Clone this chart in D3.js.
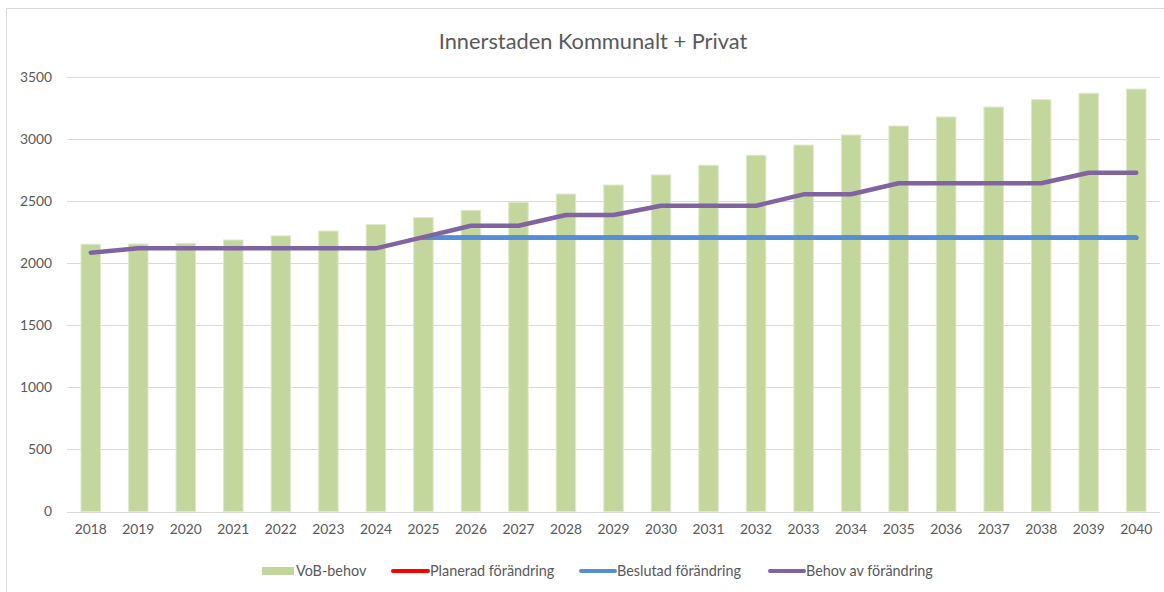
<!DOCTYPE html>
<html>
<head>
<meta charset="utf-8">
<script src="https://cdn.jsdelivr.net/npm/d3@7"></script>
<style>
  body { margin: 0; background: #fff; }
  svg { display: block; font-family: Lato, "Open Sans", sans-serif; }
</style>
</head>
<body>
<div id="chart"></div>
<script>
// values
let years = ["2018","2019","2020","2021","2022","2023","2024","2025","2026","2027","2028",
             "2029","2030","2031","2032","2033","2034","2035","2036","2037","2038","2039","2040"];
let vobBehov = [2153, 2155, 2160, 2187, 2220, 2259, 2312, 2367, 2426, 2490, 2557,
                2630, 2711, 2789, 2869, 2952, 3033, 3105, 3178, 3258, 3317, 3369, 3403];
let planerad = [null, null, null, null, null, null, null, 2206, 2206, 2206, 2206,
                2206, 2206, 2206, 2206, 2206, 2206, 2206, 2206, 2206, 2206, 2206, 2206];
let beslutad = [null, null, null, null, null, null, null, 2206, 2206, 2206, 2206,
                2206, 2206, 2206, 2206, 2206, 2206, 2206, 2206, 2206, 2206, 2206, 2206];
let behov = [2085, 2120, 2120, 2120, 2120, 2120, 2120, 2210, 2302, 2302, 2388,
             2388, 2463, 2463, 2463, 2555, 2555, 2644, 2644, 2644, 2644, 2729, 2729];
let yTicks = [0, 500, 1000, 1500, 2000, 2500, 3000, 3500];
let title = "Innerstaden Kommunalt + Privat";
let legendNames = ["VoB-behov", "Planerad förändring", "Beslutad förändring", "Behov av förändring"];

let W = 1164, H = 592;
let svg = d3.select("#chart").append("svg").attr("width", W).attr("height", H);

// chart frame
svg.append("rect")
    .attr("x", 6.5).attr("y", 8.5)
    .attr("width", 1160).attr("height", 590)
    .attr("fill", "#fff").attr("stroke", "#d9d9d9");

svg.append("text")
    .attr("x", 593).attr("y", 49)
    .attr("text-anchor", "middle")
    .style("font-size", "21.8px")
    .style("fill", "#595959")
    .text(title);

let x = d3.scaleBand().domain(years).range([67, 1160]).paddingInner(0.59).paddingOuter(0.295);
let y = d3.scaleLinear().domain([0, 3500]).range([511.5, 77]);
let cx = function(d){ return x(d) + x.bandwidth() / 2 };

//gridlines
svg.append("g")
    .selectAll("line")
    .data(yTicks)
    .enter()
    .append("line")
    .attr("x1", 67).attr("x2", 1160)
    .attr("y1", function(d){ return Math.round(y(d)) + 0.5 })
    .attr("y2", function(d){ return Math.round(y(d)) + 0.5 })
    .attr("stroke", "#d9d9d9")
    .attr("stroke-width", 1);

//y axis labels
let yAxis = svg.append("g")
    .attr("transform", "translate(52,0)")
    .call(d3.axisLeft(y).tickValues(yTicks).tickFormat(d3.format("d")).tickSize(0).tickPadding(0));
yAxis.select(".domain").remove();
yAxis.selectAll("text").style("font-size", "13.8px").style("fill", "#595959").style("font-family", "Lato, sans-serif");

//x axis labels
let xAxis = svg.append("g")
    .attr("transform", "translate(0,524)")
    .call(d3.axisBottom(x).tickSize(0).tickPadding(0));
xAxis.select(".domain").remove();
xAxis.selectAll("text").style("font-size", "13.8px").style("fill", "#595959").style("font-family", "Lato, sans-serif");

//bars
svg.append("g")
    .selectAll("rect")
    .data(years)
    .enter()
    .append("rect")
    .attr("x", function(d){ return x(d) })
    .attr("width", x.bandwidth())
    .attr("y", function(d, i){ return y(vobBehov[i]) })
    .attr("height", function(d, i){ return y(0) - y(vobBehov[i]) })
    .attr("fill", "#c3d69b")
    .attr("stroke", "#dfe9cc")
    .attr("stroke-width", 1);

//lines
let series = [
    {name: legendNames[1], values: planerad, color: "#ff0000"},
    {name: legendNames[2], values: beslutad, color: "#558ed5"},
    {name: legendNames[3], values: behov, color: "#8064a2"}
];
let line = d3.line()
    .defined(function(d){ return d.v != null })
    .x(function(d){ return cx(d.year) })
    .y(function(d){ return y(d.v) });
svg.selectAll("myLines")
    .data(series)
    .enter()
    .append("path")
    .attr("d", function(s){ return line(years.map(function(yr, i){ return {year: yr, v: s.values[i]} })) })
    .attr("stroke", function(s){ return s.color })
    .style("stroke-width", 4.5)
    .style("stroke-linejoin", "round")
    .style("stroke-linecap", "round")
    .style("fill", "none");

//legend
let legY = 571;
let leg = svg.append("g").style("font-size", "14.4px").style("fill", "#595959");
leg.append("rect").attr("x", 262).attr("y", legY - 4).attr("width", 32).attr("height", 8).attr("fill", "#c3d69b");
leg.append("text").attr("x", 296).attr("y", legY + 5).text(legendNames[0]);
let legLines = [
    {x1: 393, x2: 428, color: "#ff0000", tx: 430, name: legendNames[1]},
    {x1: 581, x2: 615, color: "#558ed5", tx: 617, name: legendNames[2]},
    {x1: 770, x2: 804, color: "#8064a2", tx: 806, name: legendNames[3]}
];
legLines.forEach(function(l){
    leg.append("line")
        .attr("x1", l.x1).attr("x2", l.x2)
        .attr("y1", legY).attr("y2", legY)
        .attr("stroke", l.color).attr("stroke-width", 4).attr("stroke-linecap", "round");
    leg.append("text").attr("x", l.tx).attr("y", legY + 5).text(l.name);
});
</script>
</body>
</html>
